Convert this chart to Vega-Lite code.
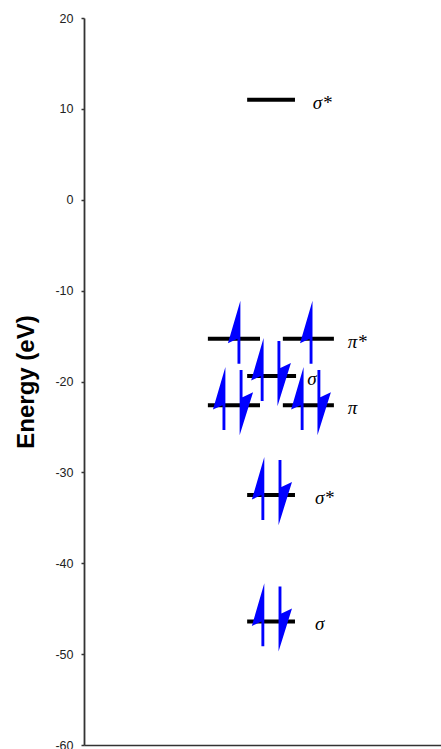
{
  "$schema": "https://vega.github.io/schema/vega-lite/v6.json",
  "autosize": "none",
  "padding": {"left": 84, "top": 18, "right": 0, "bottom": 4},
  "width": 357,
  "height": 727,
  "background": "white",
  "config": {
    "view": {"stroke": null},
    "axis": {"grid": false}
  },
  "datasets": {
    "levels": [
      {"orbital": "σ*", "energy": 11.0, "x1": 45.7, "x2": 59.1},
      {"orbital": "π*", "energy": -15.3, "x1": 34.7, "x2": 49.3},
      {"orbital": "π*", "energy": -15.3, "x1": 55.7, "x2": 70.0},
      {"orbital": "σ", "energy": -19.4, "x1": 45.7, "x2": 59.4},
      {"orbital": "π", "energy": -22.6, "x1": 34.7, "x2": 49.3},
      {"orbital": "π", "energy": -22.6, "x1": 55.7, "x2": 70.0},
      {"orbital": "σ*", "energy": -32.5, "x1": 45.7, "x2": 59.1},
      {"orbital": "σ", "energy": -46.4, "x1": 45.7, "x2": 59.1}
    ],
    "labels": [
      {"text": "σ*", "energy": 11.0, "lx": 64.1},
      {"text": "π*", "energy": -15.3, "lx": 73.9},
      {"text": "σ", "energy": -19.4, "lx": 62.5},
      {"text": "π", "energy": -22.6, "lx": 73.9},
      {"text": "σ*", "energy": -32.5, "lx": 64.7},
      {"text": "σ", "energy": -46.4, "lx": 64.7}
    ],
    "electrons": [
      {"energy": -15.3, "x": 43.4, "spin": "up"},
      {"energy": -15.3, "x": 63.6, "spin": "up"},
      {"energy": -19.4, "x": 49.9, "spin": "up"},
      {"energy": -19.4, "x": 54.6, "spin": "down"},
      {"energy": -22.6, "x": 39.2, "spin": "up"},
      {"energy": -22.6, "x": 44.0, "spin": "down"},
      {"energy": -22.6, "x": 61.1, "spin": "up"},
      {"energy": -22.6, "x": 65.8, "spin": "down"},
      {"energy": -32.5, "x": 50.1, "spin": "up"},
      {"energy": -32.5, "x": 54.9, "spin": "down"},
      {"energy": -46.4, "x": 50.1, "spin": "up"},
      {"energy": -46.4, "x": 54.9, "spin": "down"}
    ]
  },
  "layer": [
    {
      "mark": {"type": "rule", "color": "#333333", "strokeWidth": 1.6},
      "encoding": {
        "y": {"datum": 20, "type": "quantitative", "scale": {"domain": [-60, 20], "nice": false}}
      }
    },
    {
      "data": {"name": "levels"},
      "mark": {"type": "rule", "color": "black", "strokeWidth": 4},
      "encoding": {
        "x": {"field": "x1", "type": "quantitative", "scale": {"domain": [0, 100], "nice": false},
          "axis": {"labels": false, "ticks": false, "title": null, "domain": true, "domainColor": "#333333", "domainWidth": 1.6}},
        "x2": {"field": "x2"},
        "y": {"field": "energy", "type": "quantitative",
          "scale": {"domain": [-60, 20], "nice": false},
          "axis": {
            "values": [20, 10, 0, -10, -20, -30, -40, -50, -60],
            "labelExpr": "(datum.value < 0 ? '-' : '') + abs(datum.value)",
            "title": "Energy (eV)",
            "titleFont": "Liberation Sans",
            "titleFontSize": 24,
            "titleFontWeight": "bold",
            "titleColor": "black",
            "titleAngle": -90,
            "titleBaseline": "alphabetic",
            "titleAlign": "center",
            "titleX": -51,
            "titleY": 363.5,
            "labelFont": "Liberation Sans",
            "labelFontSize": 12.5,
            "labelColor": "#222222",
            "labelPadding": 8,
            "tickSize": 3,
            "tickColor": "#333333",
            "tickWidth": 1.5,
            "domainColor": "#333333",
            "domainWidth": 1.8
          }}
      }
    },
    {
      "data": {"name": "labels"},
      "mark": {"type": "text", "font": "Liberation Serif", "fontStyle": "italic", "fontSize": 19, "align": "left", "baseline": "middle", "dy": 3, "color": "black"},
      "encoding": {
        "x": {"field": "lx", "type": "quantitative"},
        "y": {"field": "energy", "type": "quantitative"},
        "text": {"field": "text"}
      }
    },
    {
      "data": {"name": "electrons"},
      "mark": {"type": "point", "filled": true, "opacity": 1, "size": 4096, "color": "#0000FF", "strokeWidth": 0},
      "encoding": {
        "x": {"field": "x", "type": "quantitative"},
        "y": {"field": "energy", "type": "quantitative"},
        "shape": {"field": "spin", "type": "nominal", "legend": null,
          "scale": {"domain": ["up", "down"],
            "range": ["M0.045,-1.19 L0.045,0.78 L-0.045,0.78 L-0.045,0 L-0.344,0.14 Z",
                      "M-0.045,-1.094 L0.045,-1.094 L0.045,-0.25 L0.375,-0.406 L-0.045,0.94 Z"]}}
      }
    }
  ]
}
